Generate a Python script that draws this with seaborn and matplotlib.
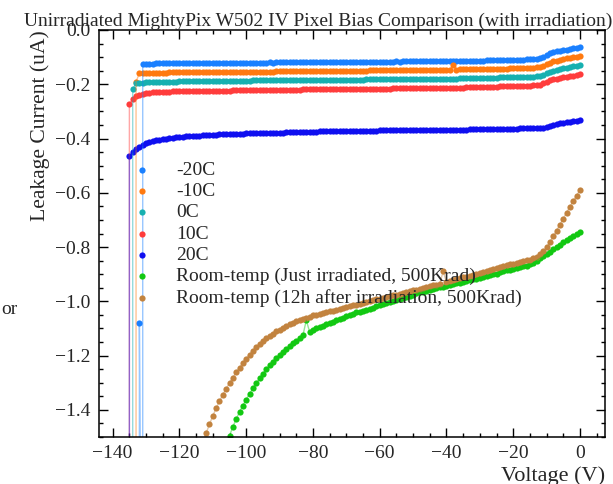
import matplotlib
matplotlib.use("Agg")
import matplotlib.pyplot as plt
from matplotlib.ticker import MultipleLocator
import seaborn as sns
import pandas as pd

# ---------------- data ----------------
VOLTS = [0, -1, -2, -3, -4, -5, -6, -7, -8, -9,
         -10, -11, -12, -13, -14, -15, -16, -17, -18, -19,
         -20, -21, -22, -23, -24, -25, -26, -27, -28, -29,
         -30, -31, -32, -33, -34, -35, -36, -37, -38, -39,
         -40, -41, -42, -43, -44, -45, -46, -47, -48, -49,
         -50, -51, -52, -53, -54, -55, -56, -57, -58, -59,
         -60, -61, -62, -63, -64, -65, -66, -67, -68, -69,
         -70, -71, -72, -73, -74, -75, -76, -77, -78, -79,
         -80, -81, -82, -83, -84, -85, -86, -87, -88, -89,
         -90, -91, -92, -93, -94, -95, -96, -97, -98, -99,
         -100, -101, -102, -103, -104, -105, -106, -107, -108, -109,
         -110, -111, -112, -113, -114, -115, -116, -117, -118, -119,
         -120, -121, -122, -123, -124, -125, -126, -127, -128, -129,
         -130, -131, -132, -133, -134, -135]

I_m20 = [-0.064, -0.066, -0.068, -0.070, -0.072, -0.074, -0.076, -0.079, -0.082, -0.086,
         -0.092, -0.099, -0.104, -0.106, -0.107, -0.108, -0.108, -0.109, -0.109, -0.109,
         -0.110, -0.110, -0.110, -0.111, -0.111, -0.111, -0.112, -0.112, -0.112, -0.113,
         -0.113, -0.113, -0.113, -0.114, -0.113, -0.114, -0.114, -0.114, -0.114, -0.115,
         -0.114, -0.115, -0.115, -0.115, -0.115, -0.115, -0.116, -0.115, -0.116, -0.116,
         -0.116, -0.116, -0.116, -0.116, -0.117, -0.116, -0.117, -0.117, -0.117, -0.117,
         -0.117, -0.117, -0.117, -0.117, -0.117, -0.118, -0.117, -0.118, -0.118, -0.118,
         -0.118, -0.118, -0.118, -0.118, -0.118, -0.118, -0.118, -0.118, -0.119, -0.118,
         -0.119, -0.119, -0.119, -0.119, -0.119, -0.119, -0.119, -0.119, -0.119, -0.119,
         -0.119, -0.119, -0.120, -0.119, -0.120, -0.120, -0.120, -0.120, -0.120, -0.120,
         -0.120, -0.120, -0.120, -0.120, -0.120, -0.120, -0.121, -0.120, -0.121, -0.121,
         -0.121, -0.121, -0.121, -0.121, -0.121, -0.121, -0.121, -0.121, -0.122, -0.121,
         -0.122, -0.122, -0.122, -0.122, -0.122, -0.123, -0.123, -0.123, -0.124, -0.124,
         -0.125, -0.127]
V_m20_tail = [-131, -132, -132]
I_m20_tail = [-3.0, -1.08, -3.0]

I_m10 = [-0.096, -0.098, -0.100, -0.103, -0.105, -0.108, -0.110, -0.113, -0.116, -0.120,
         -0.126, -0.132, -0.136, -0.138, -0.139, -0.139, -0.140, -0.140, -0.140, -0.141,
         -0.141, -0.141, -0.142, -0.142, -0.142, -0.143, -0.143, -0.143, -0.144, -0.144,
         -0.144, -0.144, -0.145, -0.145, -0.145, -0.145, -0.145, -0.146, -0.128, -0.146,
         -0.146, -0.146, -0.146, -0.147, -0.147, -0.147, -0.147, -0.147, -0.147, -0.148,
         -0.148, -0.148, -0.148, -0.148, -0.148, -0.148, -0.149, -0.149, -0.149, -0.149,
         -0.149, -0.149, -0.149, -0.149, -0.150, -0.150, -0.150, -0.150, -0.150, -0.150,
         -0.150, -0.150, -0.151, -0.150, -0.151, -0.151, -0.151, -0.151, -0.151, -0.151,
         -0.151, -0.151, -0.152, -0.152, -0.152, -0.152, -0.152, -0.152, -0.152, -0.152,
         -0.152, -0.152, -0.153, -0.153, -0.153, -0.153, -0.153, -0.153, -0.153, -0.153,
         -0.153, -0.154, -0.154, -0.154, -0.154, -0.154, -0.154, -0.154, -0.154, -0.154,
         -0.155, -0.155, -0.155, -0.155, -0.155, -0.155, -0.155, -0.155, -0.156, -0.156,
         -0.156, -0.156, -0.156, -0.156, -0.157, -0.157, -0.157, -0.157, -0.158, -0.158,
         -0.159, -0.159, -0.160]
V_m10_tail = [-133, -133]
I_m10_tail = [-0.19, -3.0]

I_0 = [-0.129, -0.131, -0.134, -0.136, -0.139, -0.141, -0.144, -0.147, -0.150, -0.154,
       -0.160, -0.166, -0.169, -0.171, -0.172, -0.172, -0.173, -0.173, -0.173, -0.174,
       -0.174, -0.174, -0.175, -0.175, -0.175, -0.176, -0.176, -0.176, -0.177, -0.177,
       -0.177, -0.177, -0.178, -0.178, -0.178, -0.178, -0.178, -0.179, -0.179, -0.179,
       -0.179, -0.179, -0.179, -0.180, -0.180, -0.180, -0.180, -0.180, -0.180, -0.180,
       -0.181, -0.181, -0.181, -0.181, -0.181, -0.181, -0.181, -0.182, -0.182, -0.182,
       -0.182, -0.182, -0.182, -0.182, -0.182, -0.183, -0.183, -0.183, -0.183, -0.183,
       -0.183, -0.183, -0.183, -0.184, -0.184, -0.184, -0.184, -0.184, -0.184, -0.184,
       -0.184, -0.185, -0.185, -0.185, -0.185, -0.185, -0.185, -0.185, -0.185, -0.185,
       -0.186, -0.186, -0.186, -0.186, -0.186, -0.186, -0.186, -0.186, -0.186, -0.187,
       -0.187, -0.187, -0.187, -0.187, -0.187, -0.187, -0.187, -0.188, -0.188, -0.188,
       -0.188, -0.188, -0.188, -0.188, -0.188, -0.189, -0.189, -0.189, -0.189, -0.189,
       -0.189, -0.190, -0.190, -0.190, -0.190, -0.191, -0.191, -0.191, -0.192, -0.192,
       -0.193, -0.194, -0.195, -0.197]
V_0_tail = [-134, -134]
I_0_tail = [-0.218, -3.0]

I_10 = [-0.164, -0.166, -0.168, -0.170, -0.172, -0.174, -0.176, -0.179, -0.182, -0.186,
        -0.191, -0.197, -0.201, -0.203, -0.204, -0.205, -0.205, -0.206, -0.206, -0.207,
        -0.207, -0.207, -0.208, -0.208, -0.208, -0.209, -0.209, -0.209, -0.210, -0.210,
        -0.210, -0.211, -0.211, -0.211, -0.211, -0.212, -0.212, -0.212, -0.212, -0.212,
        -0.213, -0.213, -0.213, -0.213, -0.213, -0.214, -0.214, -0.214, -0.214, -0.214,
        -0.214, -0.215, -0.215, -0.215, -0.215, -0.215, -0.215, -0.216, -0.216, -0.216,
        -0.216, -0.216, -0.216, -0.217, -0.217, -0.217, -0.217, -0.217, -0.217, -0.217,
        -0.218, -0.218, -0.218, -0.218, -0.218, -0.218, -0.218, -0.219, -0.219, -0.219,
        -0.219, -0.219, -0.219, -0.219, -0.220, -0.220, -0.220, -0.220, -0.220, -0.220,
        -0.220, -0.221, -0.221, -0.221, -0.221, -0.221, -0.221, -0.221, -0.222, -0.222,
        -0.222, -0.222, -0.222, -0.222, -0.222, -0.223, -0.223, -0.223, -0.223, -0.223,
        -0.223, -0.224, -0.224, -0.224, -0.224, -0.224, -0.225, -0.225, -0.225, -0.225,
        -0.226, -0.226, -0.226, -0.227, -0.227, -0.228, -0.228, -0.229, -0.230, -0.231,
        -0.233, -0.235, -0.238, -0.243, -0.255]
V_10_tail = [-135, -135]
I_10_tail = [-0.273, -3.0]

I_20 = [-0.332, -0.334, -0.336, -0.338, -0.340, -0.342, -0.344, -0.346, -0.349, -0.353,
        -0.357, -0.360, -0.361, -0.362, -0.362, -0.362, -0.363, -0.363, -0.363, -0.364,
        -0.364, -0.364, -0.364, -0.365, -0.365, -0.365, -0.365, -0.365, -0.366, -0.366,
        -0.366, -0.366, -0.366, -0.366, -0.367, -0.367, -0.367, -0.367, -0.367, -0.367,
        -0.367, -0.367, -0.368, -0.368, -0.368, -0.368, -0.368, -0.368, -0.369, -0.369,
        -0.369, -0.369, -0.369, -0.369, -0.369, -0.370, -0.370, -0.370, -0.370, -0.370,
        -0.370, -0.371, -0.371, -0.371, -0.371, -0.371, -0.372, -0.372, -0.372, -0.372,
        -0.372, -0.373, -0.373, -0.373, -0.373, -0.374, -0.374, -0.374, -0.374, -0.375,
        -0.375, -0.375, -0.376, -0.376, -0.376, -0.376, -0.377, -0.377, -0.377, -0.378,
        -0.378, -0.378, -0.379, -0.379, -0.379, -0.380, -0.380, -0.380, -0.381, -0.381,
        -0.381, -0.382, -0.382, -0.383, -0.383, -0.384, -0.384, -0.385, -0.385, -0.386,
        -0.386, -0.387, -0.387, -0.388, -0.389, -0.389, -0.390, -0.391, -0.392, -0.393,
        -0.394, -0.395, -0.397, -0.398, -0.400, -0.402, -0.404, -0.407, -0.410, -0.413,
        -0.418, -0.424, -0.431, -0.440, -0.449]
V_20_tail = [-135, -135]
I_20_tail = [-0.465, -3.0]

I_rt_just = [-0.745, -0.752, -0.759, -0.767, -0.775, -0.783, -0.791, -0.799, -0.808, -0.817,
             -0.826, -0.834, -0.842, -0.850, -0.858, -0.864, -0.868, -0.871, -0.874, -0.877,
             -0.880, -0.883, -0.886, -0.889, -0.891, -0.899, -0.901, -0.904, -0.907, -0.910,
             -0.913, -0.916, -0.919, -0.922, -0.925, -0.928, -0.931, -0.934, -0.937, -0.940,
             -0.943, -0.946, -0.949, -0.952, -0.955, -0.958, -0.961, -0.964, -0.967, -0.971,
             -0.975, -0.979, -0.983, -0.987, -0.991, -0.995, -0.999, -1.003, -1.007, -1.011,
             -1.015, -1.019, -1.023, -1.027, -1.031, -1.035, -1.039, -1.040, -1.045, -1.050,
             -1.055, -1.060, -1.065, -1.070, -1.075, -1.080, -1.085, -1.090, -1.095, -1.100,
             -1.106, -1.112, -1.070, -1.125, -1.135, -1.145, -1.155, -1.165, -1.176, -1.187,
             -1.198, -1.210, -1.222, -1.236, -1.251, -1.267, -1.284, -1.302, -1.321, -1.341,
             -1.362, -1.384, -1.408, -1.434, -1.463, -1.495, -1.530]

I_rt_12h = [-0.590, -0.610, -0.630, -0.651, -0.673, -0.695, -0.717, -0.739, -0.761, -0.783,
            -0.801, -0.816, -0.827, -0.835, -0.841, -0.846, -0.849, -0.852, -0.855, -0.858,
            -0.861, -0.864, -0.867, -0.870, -0.873, -0.878, -0.881, -0.885, -0.888, -0.892,
            -0.895, -0.898, -0.902, -0.905, -0.909, -0.912, -0.915, -0.918, -0.922, -0.925,
            -0.928, -0.890, -0.935, -0.938, -0.941, -0.945, -0.948, -0.951, -0.954, -0.957,
            -0.960, -0.963, -0.966, -0.969, -0.972, -0.975, -0.978, -0.981, -0.984, -0.987,
            -0.990, -0.993, -0.996, -1.000, -1.003, -1.006, -1.009, -1.012, -1.015, -1.018,
            -1.021, -1.024, -1.027, -1.031, -1.034, -1.037, -1.040, -1.043, -1.046, -1.049,
            -1.052, -1.056, -1.060, -1.064, -1.069, -1.074, -1.079, -1.085, -1.091, -1.097,
            -1.104, -1.111, -1.119, -1.127, -1.136, -1.146, -1.157, -1.169, -1.182, -1.196,
            -1.211, -1.227, -1.244, -1.262, -1.281, -1.301, -1.322, -1.344, -1.368, -1.394,
            -1.422, -1.453, -1.486, -1.520]

LABELS = ["-20C", "-10C", "0C", "10C", "20C",
          "Room-temp (Just irradiated, 500Krad)",
          "Room-temp (12h after irradiation, 500Krad)"]
COLORS = ["#1a80ff", "#ff7a10", "#17b0b0", "#ff3c3c", "#0f0ff0", "#12c812", "#c2833f"]

TITLE = "Unirradiated MightyPix W502 IV Pixel Bias Comparison (with irradiation)"
XLABEL = "Voltage (V)"
YLABEL = "Leakage Current (uA)"

# ---------------- build series ----------------
series = [
    (VOLTS[:len(I_m20)] + V_m20_tail, I_m20 + I_m20_tail),
    (VOLTS[:len(I_m10)] + V_m10_tail, I_m10 + I_m10_tail),
    (VOLTS[:len(I_0)] + V_0_tail, I_0 + I_0_tail),
    (VOLTS[:len(I_10)] + V_10_tail, I_10 + I_10_tail),
    (VOLTS[:len(I_20)] + V_20_tail, I_20 + I_20_tail),
    (VOLTS[:len(I_rt_just)], I_rt_just),
    (VOLTS[:len(I_rt_12h)], I_rt_12h),
]

sns.set_theme(style="ticks")
plt.rcParams["font.family"] = ["Liberation Serif", "DejaVu Serif"]
plt.rcParams["axes.unicode_minus"] = True

W, H = 613, 484
fig = plt.figure(figsize=(W / 100, H / 100), dpi=100)
ax_l, ax_r, ax_t, ax_b = 99, 605, 30, 437
ax = fig.add_axes([ax_l / W, 1 - ax_b / H, (ax_r - ax_l) / W, (ax_b - ax_t) / H])

for (v, i), lab, col in zip(series, LABELS, COLORS):
    df = pd.DataFrame({"V": v, "I": i})
    sns.lineplot(data=df, x="V", y="I", sort=False, estimator=None, color=col,
                 lw=1.0, alpha=0.45, ax=ax, legend=False)
    sns.scatterplot(data=df, x="V", y="I", color=col, s=20, linewidth=0,
                    ax=ax, label=lab)

ax.set_xlim(-144.1, 7.5)
ax.set_ylim(-1.5, 0.0)
ax.xaxis.set_major_locator(MultipleLocator(20))
ax.xaxis.set_minor_locator(MultipleLocator(5))
ax.yaxis.set_major_locator(MultipleLocator(0.2))
ax.yaxis.set_minor_locator(MultipleLocator(0.05))
ax.tick_params(which="both", direction="in", top=True, right=True,
               width=1.0, color="black", labelsize=14, pad=6)
ax.tick_params(which="major", length=6.5)
ax.tick_params(which="minor", length=3.2)
for sp in ax.spines.values():
    sp.set_linewidth(1.1)
    sp.set_color("black")

ax.set_xlabel(XLABEL, fontsize=16, loc="right")
ax.xaxis.set_label_coords(1.0, -0.071)
ax.xaxis.label.set_va("top")
ax.set_ylabel(YLABEL, fontsize=15.6, loc="top")
ax.yaxis.set_label_coords((50 - ax_l) / (ax_r - ax_l), 1.0)

ax.set_title(TITLE, fontsize=14, x=(318 - ax_l) / (ax_r - ax_l), pad=1.5)

leg = ax.legend(loc="upper left", bbox_to_anchor=(0.032, 0.697), frameon=False,
                fontsize=14, handletextpad=0.75, labelspacing=0.19,
                borderaxespad=0.0, markerscale=1.0)

fig.text(1 / W, 1 - 310 / H, "or", ha="left", va="center", fontsize=14)

fig.savefig("out.png", dpi=100)
